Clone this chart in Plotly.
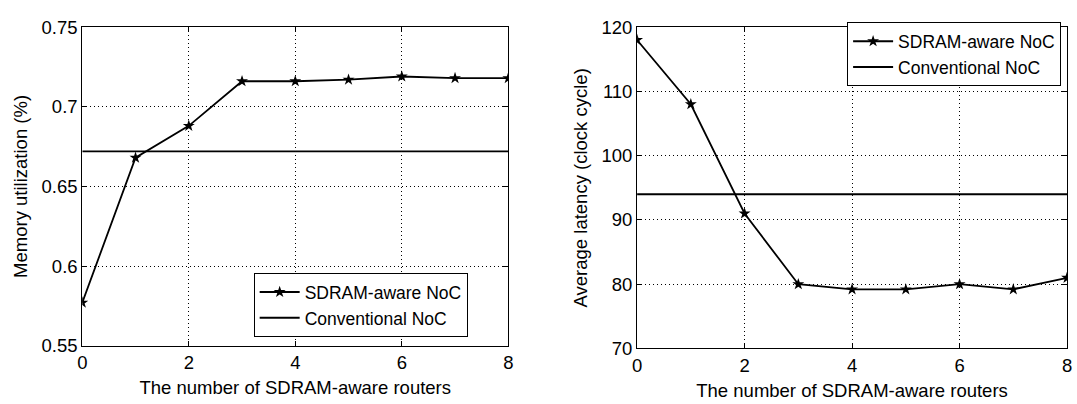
import plotly.graph_objects as go

routers = [0, 1, 2, 3, 4, 5, 6, 7, 8]
mem_sdram = [0.577, 0.668, 0.688, 0.716, 0.716, 0.717, 0.719, 0.718, 0.718]
mem_conv = 0.672
lat_sdram = [118, 108, 91, 80, 79.2, 79.2, 80, 79.2, 81]
lat_conv = 94

x_ticks = [0, 2, 4, 6, 8]
mem_ticks = [0.55, 0.6, 0.65, 0.7, 0.75]
mem_ticklabels = ["0.55", "0.6", "0.65", "0.7", "0.75"]
lat_ticks = [70, 80, 90, 100, 110, 120]
lat_ticklabels = ["70", "80", "90", "100", "110", "120"]

series_names = ["SDRAM-aware NoC", "Conventional NoC"]
x_title = "The number of SDRAM-aware routers"
mem_title = "Memory utilization (%)"
lat_title = "Average latency (clock cycle)"

FONT = "Liberation Sans, Arial, sans-serif"

fig = go.Figure()

line_style = dict(color="black", width=1.8)
marker_style = dict(symbol="star", size=9, color="black")

ends = [routers[0], routers[-1]]

fig.add_trace(go.Scatter(x=routers, y=mem_sdram, mode="lines+markers", name=series_names[0],
                         line=line_style, marker=marker_style, xaxis="x", yaxis="y", legend="legend"))
fig.add_trace(go.Scatter(x=ends, y=[mem_conv, mem_conv], mode="lines", name=series_names[1],
                         line=line_style, xaxis="x", yaxis="y", legend="legend"))
fig.add_trace(go.Scatter(x=routers, y=lat_sdram, mode="lines+markers", name=series_names[0],
                         line=line_style, marker=marker_style, xaxis="x2", yaxis="y2", legend="legend2"))
fig.add_trace(go.Scatter(x=ends, y=[lat_conv, lat_conv], mode="lines", name=series_names[1],
                         line=line_style, xaxis="x2", yaxis="y2", legend="legend2"))

W, H = 1077, 404
TS = 18.5

def ax_common():
    return dict(
        showline=True, linecolor="black", linewidth=1, mirror="ticks",
        ticks="inside", ticklen=5, tickcolor="black", tickwidth=1,
        showgrid=True, gridcolor="black", gridwidth=1, griddash="1px,3px",
        zeroline=False,
        tickfont=dict(family=FONT, size=TS, color="black"),
        title_font=dict(family=FONT, size=TS, color="black"),
    )

legend_common = dict(bgcolor="white", bordercolor="black", borderwidth=1,
                     font=dict(family=FONT, size=17.5, color="black"),
                     tracegroupgap=0, itemwidth=40)

fig.update_layout(
    width=W, height=H,
    margin=dict(l=0, r=0, t=0, b=0),
    paper_bgcolor="white", plot_bgcolor="white",
    font=dict(family=FONT, color="black"),
    xaxis=dict(domain=[78 / W, 508 / W], range=[0, 8], tickvals=x_ticks, anchor="y",
               title=dict(text=x_title, standoff=9), **ax_common()),
    yaxis=dict(domain=[1 - 353 / H, 1 - 17 / H], range=[0.55, 0.75], tickvals=mem_ticks,
               ticktext=mem_ticklabels, anchor="x",
               title=dict(text=mem_title, standoff=9), **ax_common()),
    xaxis2=dict(domain=[638 / W, 1072 / W], range=[0, 8], tickvals=x_ticks, anchor="y2",
                title=dict(text=x_title, standoff=9), **ax_common()),
    yaxis2=dict(domain=[1 - 356 / H, 1 - 17 / H], range=[70, 120], tickvals=lat_ticks,
                ticktext=lat_ticklabels, anchor="x2",
                title=dict(text=lat_title, standoff=9), **ax_common()),
    legend=dict(x=467 / W, y=1 - 344 / H, xanchor="right", yanchor="bottom", **legend_common),
    legend2=dict(x=1066 / W, y=1 - 12 / H, xanchor="right", yanchor="top", **legend_common),
    showlegend=True,
)

fig.write_html("out.html")
